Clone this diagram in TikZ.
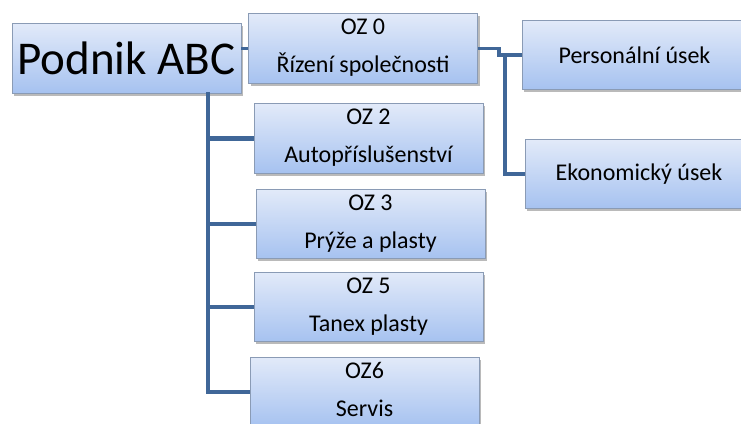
\documentclass[tikz,border=0pt]{standalone}
\usepackage{fontspec}
\setmainfont{Carlito}
\usepackage{xcolor}
\usepackage{tikz}
\usetikzlibrary{shadows}
\usetikzlibrary{calc}
\definecolor{boxtop}{RGB}{226,234,249}
\definecolor{boxbot}{RGB}{166,194,240}
\definecolor{boxline}{RGB}{138,155,181}
\definecolor{connblue}{RGB}{64,103,152}
\newcommand{\ozlabel}[2]{\rule{0pt}{21pt}#1\\#2\rule[-10.5pt]{0pt}{10.5pt}}
\tikzset{
    unit/.style={draw=boxline, line width=0.8pt, top color=boxtop, bottom color=boxbot, inner sep=0pt,
        minimum width=229pt, minimum height=69pt, align=center, font=\fontsize{24}{38}\selectfont,
        drop shadow={shadow xshift=2pt, shadow yshift=-2.5pt, fill=black!45, opacity=.6}},
    conn/.style={draw=connblue, line width=4.5pt}}

\begin{document}
\begin{tikzpicture}[x=1pt,y=-1pt]
\useasboundingbox (0,0) rectangle (741,423);

%Top of the tree
\node[unit, minimum height=70pt, font=\fontsize{47}{50}\selectfont] (podnik) at (126.5,58) {Podnik ABC};
\node[unit] (oz0) at (363,48.5) {\ozlabel{OZ 0}{Řízení společnosti}};

%Branches
\node[unit] (oz2) at (368.5,138.5) {\ozlabel{OZ 2}{Autopříslušenství}};
\node[unit] (oz3) at (370.5,224) {\ozlabel{OZ 3}{Prýže a plasty}};
\node[unit] (oz5) at (368.5,307) {\ozlabel{OZ 5}{Tanex plasty}};
\node[unit, minimum height=70pt] (oz6) at (364.5,392) {\ozlabel{OZ6}{Servis}};
\node[unit, minimum width=225pt] (pers) at (634.5,55) {Personální úsek};
\node[unit, minimum width=228pt] (ekon) at (639,174) {Ekonomický úsek};

%Connectors
\coordinate (t0) at (208,92);
\coordinate (j) at (499,0);
\coordinate (b) at (505,0);
\draw [conn, line width=3pt](podnik.east |- oz0.west)--(oz0.west);
\draw [conn](t0) |- (oz6.west);
\draw [conn](t0 |- oz2.west)--(oz2.west);
\draw [conn](t0 |- oz3.west)--(oz3.west);
\draw [conn](t0 |- oz5.west)--(oz5.west);
\draw [conn, line width=3.5pt](oz0.east)--(oz0.east -| j) |- (pers.west);
\draw [conn, line width=3.5pt](b |- pers.west) |- (ekon.west);

\end{tikzpicture}
\end{document}
